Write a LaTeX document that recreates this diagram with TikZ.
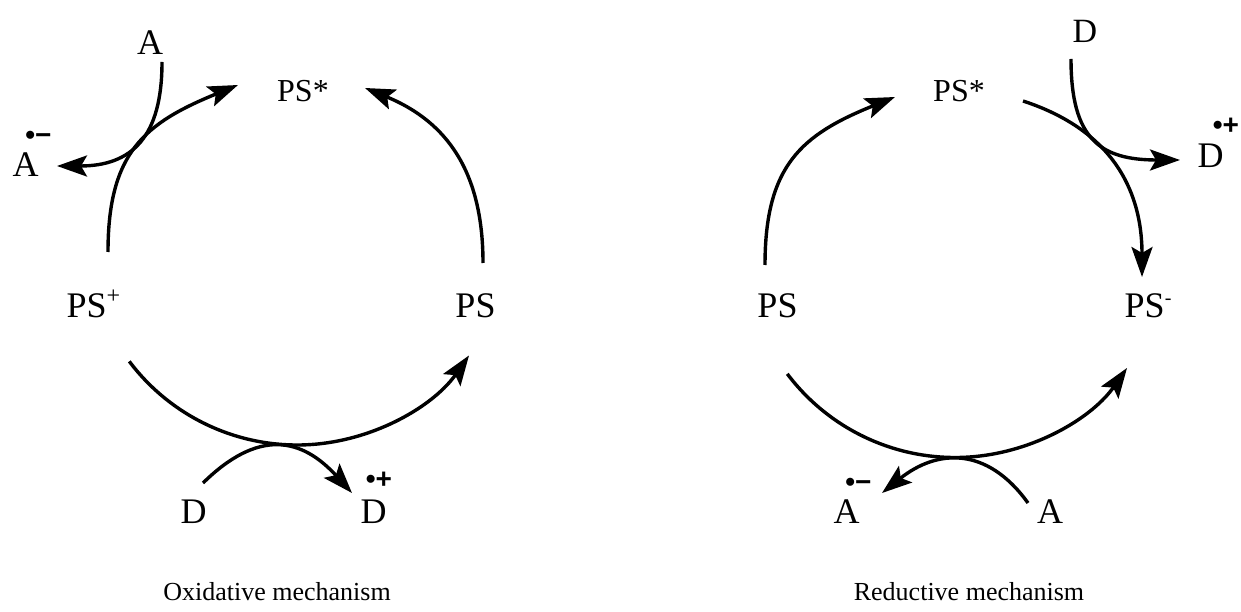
\documentclass[tikz,border=0pt]{standalone}
\usepackage{fontspec}
\setmainfont{Liberation Serif}
\newfontfamily\radfont{Liberation Sans}
\usepackage{tikz}
\usetikzlibrary{arrows.meta,calc}

\tikzset{
  chem/.style={font=\fontsize{36}{40}\selectfont, inner sep=0pt, anchor=base},
  excited/.style={font=\fontsize{32}{36}\selectfont, inner sep=0pt, anchor=base},
  radical/.style={font=\radfont\bfseries\fontsize{28}{30}\selectfont, inner sep=0pt, anchor=base},
  caption/.style={font=\fontsize{26}{30}\selectfont, inner sep=0pt, anchor=base},
}

\begin{document}
\begin{tikzpicture}[>={Stealth[length=30pt,width=21pt,inset=6pt]}, line width=3.4pt, x=1pt, y=1pt]
    \useasboundingbox (0,0) rectangle (1241,611);

    % 定义坐标
    \coordinate (botL) at (297,376);
    \coordinate (botR) at (955,363.5);
    \coordinate (upL1) at (108,359);
    \coordinate (upL2) at (238,526);
    \coordinate (upL3) at (483,348);
    \coordinate (upL4) at (365,523);
    \coordinate (upR1) at (765,346);
    \coordinate (upR2) at (895,514);
    \coordinate (upR3) at (1023,510);
    \coordinate (upR4) at (1142,334);
    \coordinate (aIn) at (162,549);
    \coordinate (aOut) at (57,445);
    \coordinate (dIn) at (203,128);
    \coordinate (dOut) at (352,118);
    \coordinate (dInR) at (1071,552);
    \coordinate (dOutR) at (1180,451);
    \coordinate (aInR) at (1028,108);
    \coordinate (aOutR) at (882,118);

    % 氧化机理
    \node[excited] (starL) at (303,509) {PS*};
    \node[chem, anchor=base west] (plusL) at (65,294) {PS\raisebox{14pt}{\fontsize{24}{24}\selectfont +}};
    \node[chem] (psL) at (475.5,294) {PS};
    \node[chem] (accL) at (150,556) {A};
    \node[chem] (anionL) at (25.5,434) {A};
    \node[radical] (anionSupL) at (38.5,466) {•−};
    \node[chem] (donL) at (193.5,88) {D};
    \node[chem] (cationL) at (373.5,88) {D};
    \node[radical] (cationSupL) at (379,123) {•+};
    \node[caption] (capL) at (277,11) {Oxidative mechanism};

    \draw[->] (upL1) .. controls (108,459) and (145,488) .. (upL2);
    \draw[->] (upL3) .. controls (483,438) and (448,489) .. (upL4);
    \draw[->] ($(botL)+(217:210)$) arc[start angle=217, end angle=325, radius=210];
    \draw[->] (aIn) .. controls (162,474) and (132,445) .. (aOut);
    \draw[->] (dIn) .. controls (258,182) and (301,174) .. (dOut);

    % 还原机理
    \node[excited] (starR) at (959,509) {PS*};
    \node[chem] (psR) at (777.5,294) {PS};
    \node[chem, anchor=base west] (minusR) at (1123,294) {PS\raisebox{13pt}{\fontsize{20}{20}\selectfont -}};
    \node[chem, font=\fontsize{34}{38}\selectfont] (donR) at (1085,568) {D};
    \node[chem] (cationR) at (1210.5,443) {D};
    \node[radical] (cationSupR) at (1226,476) {•+};
    \node[chem] (anionR) at (846.5,88) {A};
    \node[radical] (anionSupR) at (858.5,120) {•−};
    \node[chem] (accR) at (1050,88) {A};
    \node[caption] (capR) at (969,11) {Reductive mechanism};

    \draw[->] (upR1) .. controls (765,446) and (802,476.5) .. (upR2);
    \draw[->] (upR3) .. controls (1109,482) and (1142,424) .. (upR4);
    \draw[->] ($(botR)+(217:210)$) arc[start angle=217, end angle=325, radius=210];
    \draw[->] (dInR) .. controls (1071,472) and (1100,451) .. (dOutR);
    \draw[->] (aInR) .. controls (987,165) and (937,162) .. (aOutR);
\end{tikzpicture}
\end{document}
